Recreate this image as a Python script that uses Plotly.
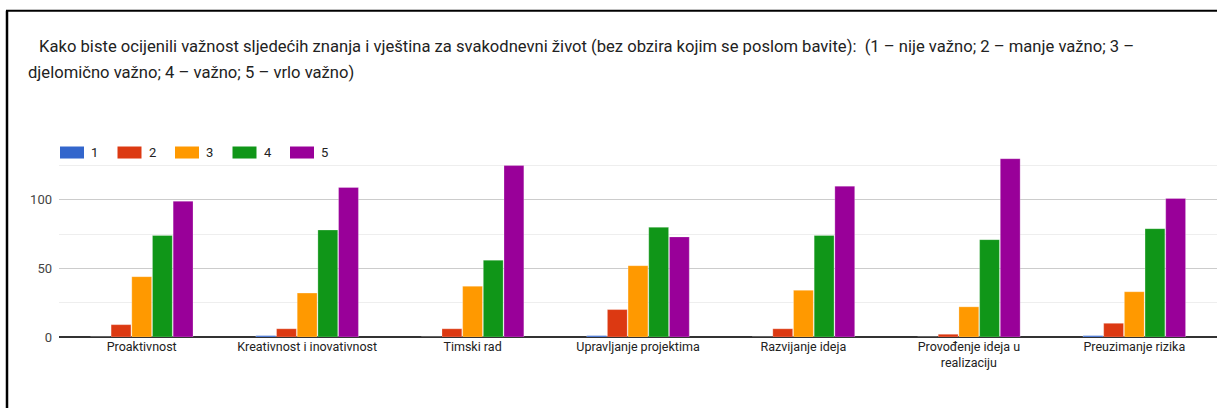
import plotly.graph_objects as go

categories = ["Proaktivnost", "Kreativnost i inovativnost", "Timski rad",
              "Upravljanje projektima", "Razvijanje ideja",
              "Provođenje ideja u<br>realizaciju", "Preuzimanje rizika"]
series_names = ["1", "2", "3", "4", "5"]
values_1 = [0, 1, 0, 1, 0, 0, 1]
values_2 = [9, 6, 6, 20, 6, 2, 10]
values_3 = [44, 32, 37, 52, 34, 22, 33]
values_4 = [74, 78, 56, 80, 74, 71, 79]
values_5 = [99, 109, 125, 73, 110, 130, 101]
series_values = [values_1, values_2, values_3, values_4, values_5]
colors = ["#3366cc", "#dc3912", "#ff9900", "#109618", "#990099"]
title_line1 = " Kako biste ocijenili važnost sljedećih znanja i vještina za svakodnevni život (bez obzira kojim se poslom bavite):  (1 – nije važno; 2 – manje važno; 3 –"
title_line2 = "djelomično važno; 4 – važno; 5 – vrlo važno)"

W, H = 1217, 408
ML, MR = 59, 0
PT, PB = 145, 336.7
MB = H - PB
plot_w = W - ML - MR
plot_h = PB - PT

def px_x(x):
    return (x - ML) / plot_w

def px_y(y):
    return (PB - y) / plot_h

fig = go.Figure()
for name, vals, col in zip(series_names, series_values, colors):
    fig.add_trace(go.Bar(x=categories, y=vals, name=name, marker_color=col,
                         marker_line=dict(color="rgba(255,255,255,0.5)", width=0.5),
                         showlegend=False))

shapes = []
annotations = []
# manual legend
for i, (name, col) in enumerate(zip(series_names, colors)):
    x0 = 60 + i * 57.5
    shapes.append(dict(type="rect", xref="paper", yref="paper",
                       x0=px_x(x0), x1=px_x(x0 + 24), y0=px_y(158.5), y1=px_y(146.5),
                       fillcolor=col, line=dict(width=0)))
    annotations.append(dict(text=name, xref="paper", yref="paper", x=px_x(x0 + 29),
                            y=px_y(152.5), xanchor="left", yanchor="middle",
                            showarrow=False, font=dict(size=13, color="#222", family="Roboto")))

# border lines (screenshot frame)
shapes.append(dict(type="line", xref="paper", yref="paper", x0=px_x(6), x1=px_x(1217),
                   y0=px_y(11), y1=px_y(11), line=dict(color="black", width=2)))
shapes.append(dict(type="line", xref="paper", yref="paper", x0=px_x(7), x1=px_x(7),
                   y0=px_y(11), y1=px_y(408), line=dict(color="black", width=2.5)))

annotations.append(dict(text=title_line1, xref="paper", yref="paper", x=px_x(33), y=px_y(47),
                        xanchor="left", yanchor="middle", showarrow=False,
                        font=dict(size=16.6, color="#222", family="Roboto")))
annotations.append(dict(text=title_line2, xref="paper", yref="paper", x=px_x(26), y=px_y(73),
                        xanchor="left", yanchor="middle", showarrow=False,
                        font=dict(size=16.6, color="#222", family="Roboto")))

fig.update_layout(
    width=W, height=H,
    margin=dict(l=ML, r=MR, t=PT, b=MB),
    paper_bgcolor="white", plot_bgcolor="white",
    barmode="group", bargap=0.375, bargroupgap=0.04,
    font=dict(family="Roboto", size=12, color="#444"),
    shapes=shapes, annotations=annotations,
    xaxis=dict(showgrid=False, ticks="", tickfont=dict(size=12.5, color="#222"),
               showline=False, zeroline=False, tickangle=0),
    yaxis=dict(range=[0, 140], tickvals=[0, 50, 100], showgrid=True, gridcolor="#cccccc",
               gridwidth=1, zeroline=True, zerolinecolor="#333333", zerolinewidth=1.5,
               tickfont=dict(size=13, color="#444"), ticks="", ticklabelstandoff=6,
               minor=dict(tickvals=[25, 75, 125], showgrid=True, gridcolor="#eeeeee", gridwidth=1)),
)
fig.write_html("out.html", config={"displayModeBar": False},
               post_script="document.body.style.margin='0';document.body.style.overflow='hidden';")
